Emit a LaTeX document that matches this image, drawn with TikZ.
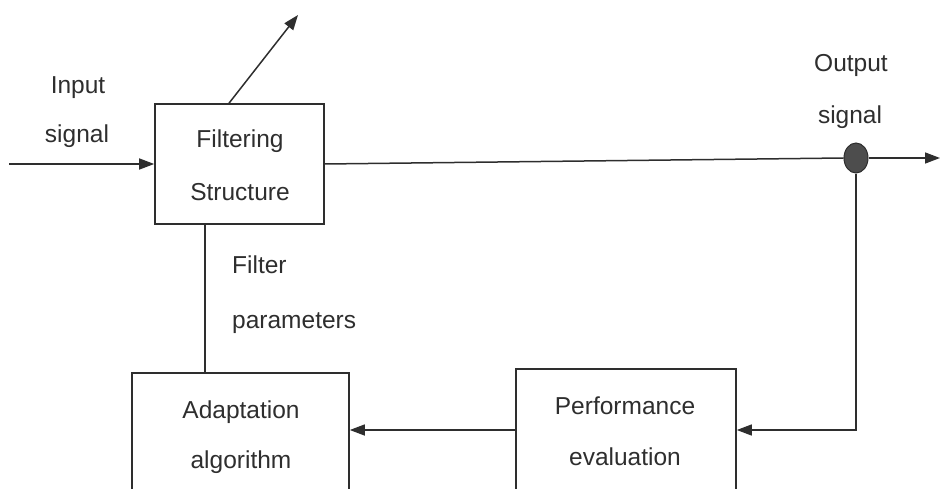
\documentclass[tikz,border=0pt]{standalone}
\usepackage{fontspec}
\setmainfont{Liberation Sans}
\usetikzlibrary{arrows.meta,shapes.geometric}
\definecolor{ink}{HTML}{2E2E2E}
\begin{document}
\begin{tikzpicture}[x=1pt,y=-1pt,
  every node/.style={text=ink},
  block/.style={draw=ink,line width=1.6pt,inner sep=0pt},
  wire/.style={draw=ink,line width=1.5pt},
  arr/.style={wire,-{Triangle[length=15pt,width=11pt]}},
  lbl/.style={font=\fontsize{24.5}{28}\selectfont,anchor=base,inner sep=0pt}]
\useasboundingbox (0,0) rectangle (941,489);
\clip (0,0) rectangle (941,489);

% blocks
\node[block,minimum width=169pt,minimum height=120pt] (filt) at (239.5,164) {};
\node[block,minimum width=217pt,minimum height=160pt] (adapt) at (240.5,453) {};
\node[block,minimum width=220pt,minimum height=160pt] (perf) at (626,449) {};
\node[ellipse,fill=ink!85,draw=ink,line width=1pt,minimum width=24pt,minimum height=30pt,inner sep=0pt] (dot) at (856,158) {};

% texts
\node[lbl] (t1) at (240,148) {Filtering};
\node[lbl] (t2) at (240,200) {Structure};
\node[lbl] (t3) at (241,418) {Adaptation};
\node[lbl] (t4) at (241,468) {algorithm};
\node[lbl] (t5) at (625,414) {Performance};
\node[lbl] (t6) at (625,465) {evaluation};
\node[lbl,anchor=base west] (t7) at (232,273) {Filter};
\node[lbl,anchor=base west] (t8) at (232,328) {parameters};
\node[lbl] (t9) at (78,94) {Input};
\node[lbl] (t10) at (77,143) {signal};
\node[lbl] (t11) at (851,72) {Output};
\node[lbl] (t12) at (850,124) {signal};

% helper points
\coordinate (src) at (9,164);
\coordinate (tip) at (298,15);
\coordinate (tx) at (229,0);
\coordinate (px) at (205,0);
\coordinate (fb) at (0,430);
\coordinate (sink) at (940,158);

% connectors
\draw[arr] (src) -- (filt.west);
\draw[arr] (filt.north -| tx) -- (tip);
\draw[wire] (filt.east) -- (dot.west);
\draw[arr] (dot.east) -- (sink);
\draw[arr] (dot.south) |- (perf.east |- fb);
\draw[arr] (perf.west |- fb) -- (adapt.east |- fb);
\draw[wire] (filt.south -| px) -- (adapt.north -| px);
\end{tikzpicture}
\end{document}
